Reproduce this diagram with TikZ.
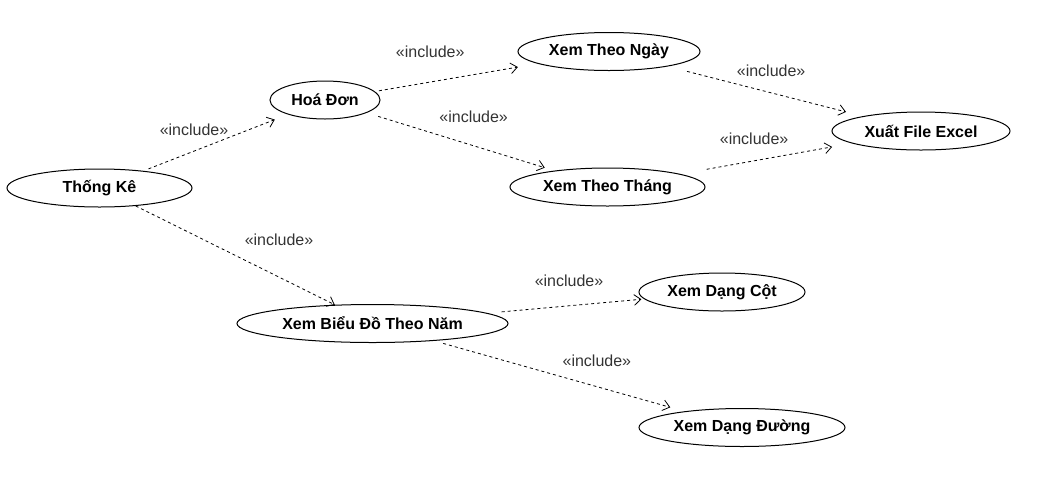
\documentclass[tikz,border=0pt]{standalone}
\usepackage{fontspec}
\setmainfont{Liberation Sans}
\usetikzlibrary{shapes.geometric, arrows.meta}

\begin{document}
\begin{tikzpicture}[x=0.75pt, y=-0.75pt]
	\tikzset{cas/.style={ellipse, draw=black, line width=0.75pt, inner sep=0pt, minimum height=28.5pt, font=\fontsize{12}{14}\selectfont\bfseries},
		fleche/.style={dash pattern=on 2.25pt off 2.25pt, line width=0.6pt, -{Straight Barb[length=5pt, width=8pt]}},
		etiq/.style={font=\fontsize{12}{14}\selectfont, text=black!80}};

	\useasboundingbox (0,0) rectangle (1043,476);

	\node[cas, minimum width=138.75pt] (tk)     at (  99.5, 188  ) {Thống Kê};
	\node[cas, minimum width= 82.5pt ] (hd)     at ( 325  , 100  ) {Hoá Đơn};
	\node[cas, minimum width=136.5pt ] (ngay)   at ( 609  ,  51.5) {Xem Theo Ngày};
	\node[cas, minimum width=146.25pt] (thang)  at ( 607.5, 187  ) {Xem Theo Tháng};
	\node[cas, minimum width=133.5pt ] (excel)  at ( 921  , 131  ) {Xuất File Excel};
	\node[cas, minimum width=203.25pt] (bieudo) at ( 372.5, 323.5) {Xem Biểu Đồ Theo Năm};
	\node[cas, minimum width=124.5pt ] (cot)    at ( 722  , 292  ) {Xem Dạng Cột};
	\node[cas, minimum width=154.5pt ] (duong)  at ( 742  , 427.5) {Xem Dạng Đường};

	\draw[fleche, shorten <=4pt,  shorten >=10.5pt] (tk)     to node[etiq, pos=0.35, yshift=15.75pt] {«include»} (hd);
	\draw[fleche, shorten <=3pt,  shorten >=15pt  ] (hd)     to node[etiq, pos=0.34, yshift=22.5pt ] {«include»} (ngay);
	\draw[fleche, shorten <=9pt,  shorten >=7.5pt ] (hd)     to node[etiq, pos=0.57, yshift=21.4pt ] {«include»} (thang);
	\draw[fleche, shorten <=15pt, shorten >=13pt  ] (ngay)   to node[etiq, pos=0.53, yshift=16.5pt ] {«include»} (excel);
	\draw[fleche, shorten <=20pt, shorten >=15pt  ] (thang)  to node[etiq, pos=0.43, yshift=16.6pt ] {«include»} (excel);
	\draw[fleche                                  ] (tk)     to node[etiq, pos=0.72, yshift=28.3pt ] {«include»} (bieudo);
	\draw[fleche, shorten <=10.5pt, shorten >=2pt ] (bieudo) to node[etiq, pos=0.52, yshift=18.4pt ] {«include»} (cot);
	\draw[fleche, shorten <=7pt,  shorten >=11pt  ] (bieudo) to node[etiq, pos=0.65, yshift=19.3pt ] {«include»} (duong);

\end{tikzpicture}
\end{document}
